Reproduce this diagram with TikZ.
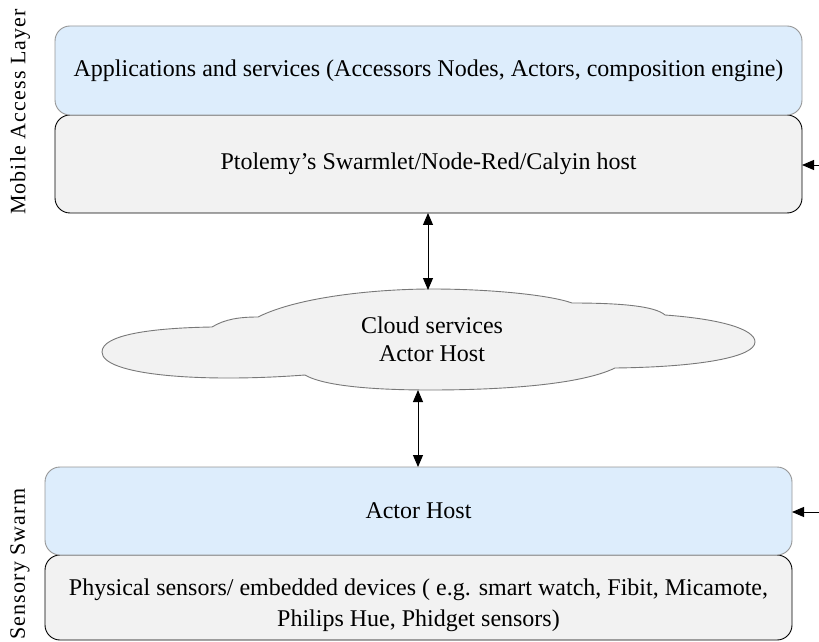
\documentclass[tikz,border=0pt]{standalone}
\usepackage{fontspec}
\setmainfont{Liberation Serif}
\usetikzlibrary{arrows.meta}
\definecolor{boxblue}{RGB}{221,237,252}
\definecolor{boxgray}{RGB}{242,242,242}
\definecolor{edgegray}{RGB}{150,150,150}
\definecolor{cloudedge}{RGB}{120,120,120}
\begin{document}
\begin{tikzpicture}[x=1pt,y=1pt,
  layer/.style={rounded corners=15pt,minimum width=747pt,inner sep=0pt,outer sep=0pt,
    font=\fontsize{24}{30}\selectfont,align=center,line width=0.9pt},
  bluebox/.style={layer,fill=boxblue,draw=edgegray},
  graybox/.style={layer,fill=boxgray,draw=black},
  boxtext/.style={font=\fontsize{24}{31}\selectfont,align=center,inner sep=0pt},
  conn/.style={line width=0.9pt,{Triangle[length=12pt,width=10pt]}-{Triangle[length=12pt,width=10pt]}},
  feed/.style={line width=0.9pt,-{Triangle[length=12pt,width=10pt]}},
  sidelabel/.style={rotate=90,inner sep=0pt,font=\fontsize{22}{24}\selectfont\addfontfeature{LetterSpace=5}}]
\useasboundingbox (0,0) rectangle (819,641);
% layers
\node[graybox,minimum height=98pt] (host) at (428.5,477) {Ptolemy’s Swarmlet/Node-Red/Calyin host};
\node[bluebox,minimum height=89pt] (app) at (428.5,570.5) {Applications and services (Accessors Nodes, Actors, composition engine)};
\node[graybox,minimum height=85pt] (phys) at (418.5,43.5) {};
\node[boxtext] (physlabel) at (418.5,36) {Physical sensors/ embedded devices ( e.g. smart watch, Fibit, Micamote,\\Philips Hue, Phidget sensors)};
\node[bluebox,minimum height=88pt] (actor) at (418.5,130) {Actor Host};
% cloud
\draw[fill=boxgray,draw=cloudedge,line width=0.9pt]
  (305,266) .. controls (200,258) and (102,266) .. (102,289)
  .. controls (102,306) and (150,313) .. (212,314)
  .. controls (225,322) and (240,324) .. (258,324)
  .. controls (300,345) and (380,352) .. (432,352)
  .. controls (490,352) and (550,346) .. (572,338)
  .. controls (620,338) and (655,335) .. (665,326)
  .. controls (720,322) and (755,312) .. (755,299)
  .. controls (755,284) and (700,274) .. (615,273)
  .. controls (580,256) and (500,251) .. (430,251)
  .. controls (360,251) and (320,257) .. (305,266) -- cycle;
\node[font=\fontsize{24}{28}\selectfont,align=center] (cloud) at (432,302) {Cloud services\\Actor Host};
\coordinate (cloudtop) at (428,351);
\coordinate (cloudbot) at (418,251);
% connectors
\draw[conn] (host.south -| cloudtop) -- (cloudtop);
\draw[conn] (cloudbot) -- (actor.north -| cloudbot);
\coordinate (in1) at (819,476);
\coordinate (in2) at (819,129);
\draw[feed] (in1) -- (in1 -| host.east);
\draw[feed] (in2) -- (in2 -| actor.east);
% side labels
\node[sidelabel] (mal) at (20,529) {Mobile Access Layer};
\node[sidelabel] (ss) at (20,77) {Sensory Swarm};
\end{tikzpicture}
\end{document}
